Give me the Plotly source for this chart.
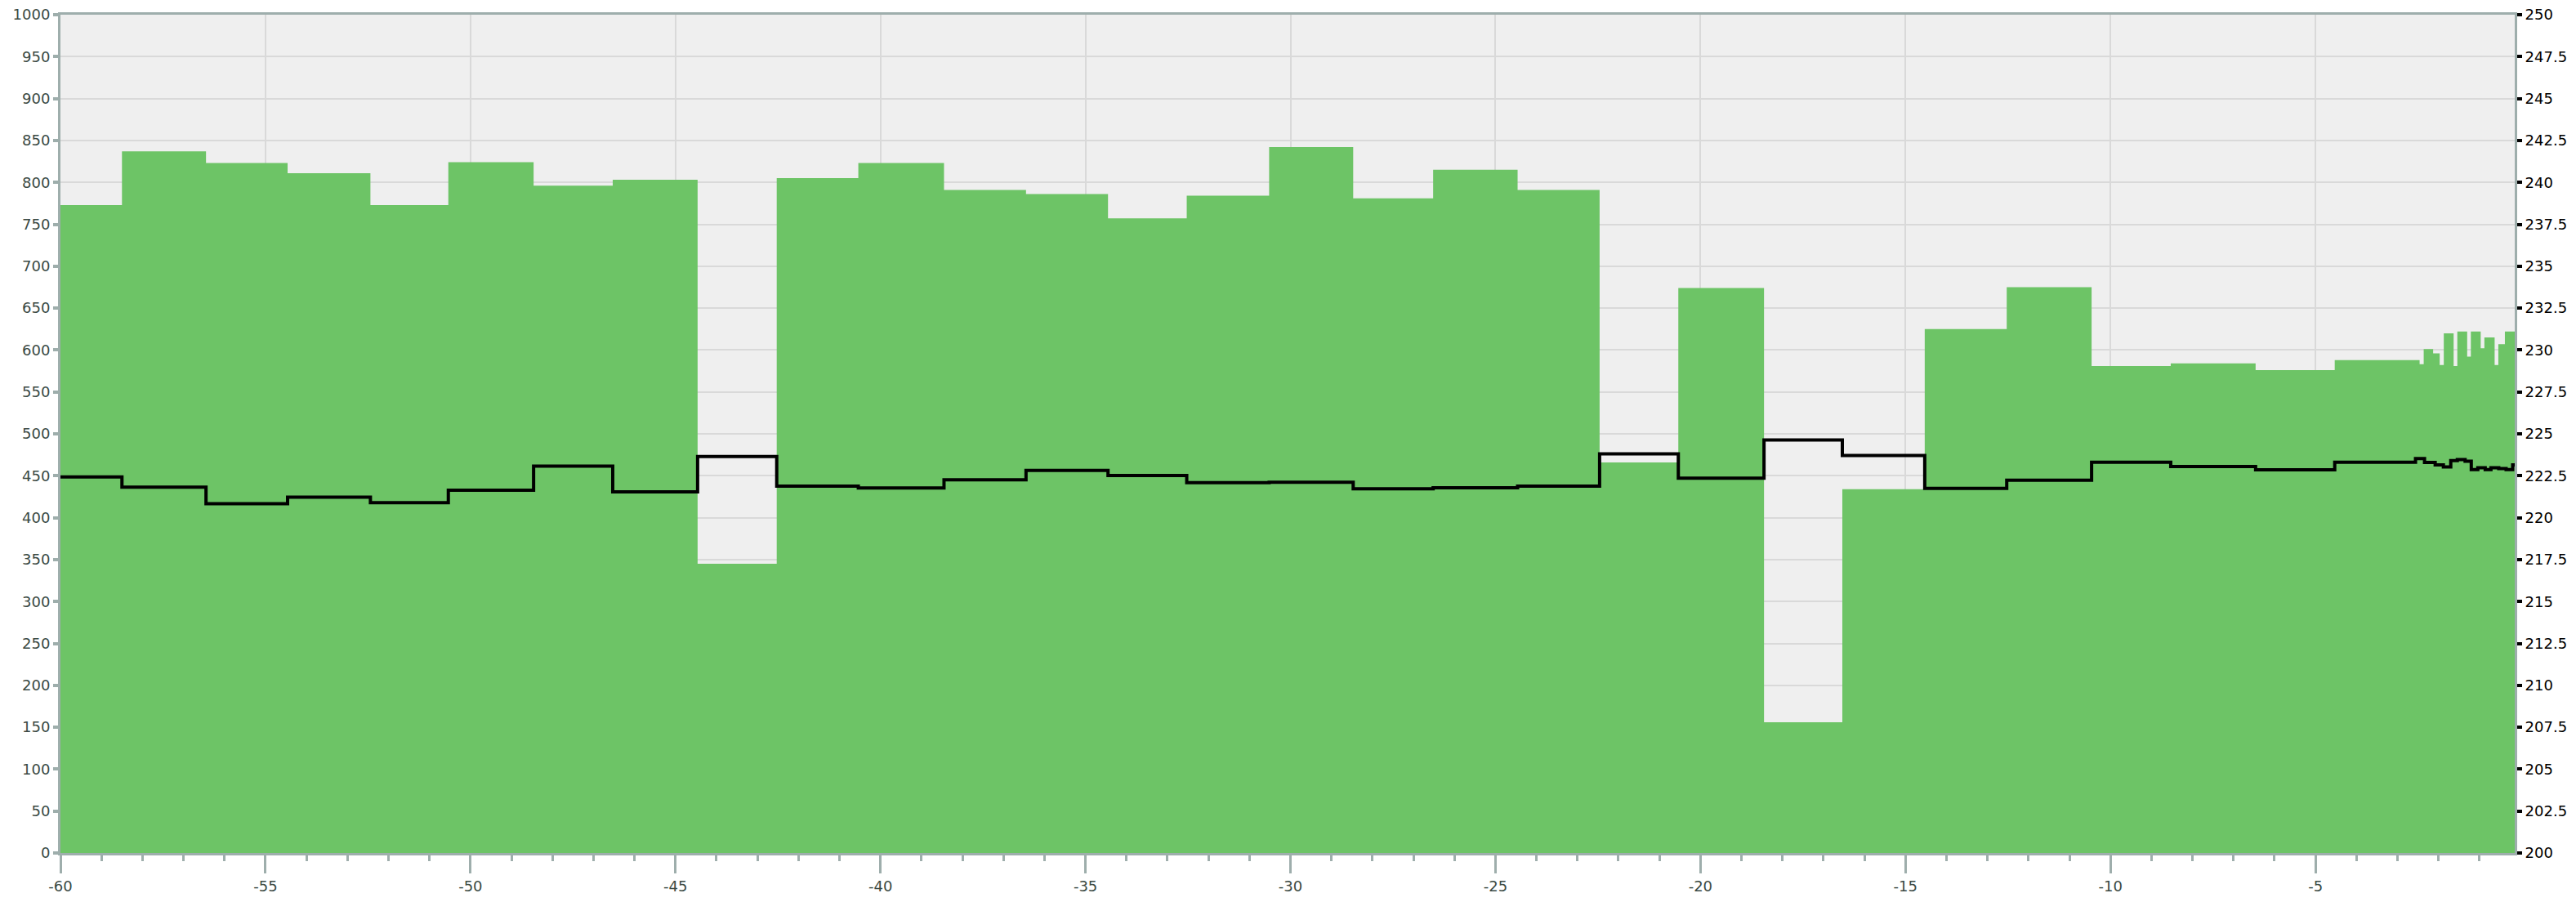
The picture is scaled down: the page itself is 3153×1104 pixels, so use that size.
import plotly.graph_objects as go

# Green stepped series (left axis): start of each step and its value
bar_x = [-60, -58.5, -56.45, -54.46, -52.44, -50.54, -48.46, -46.53, -44.46, -42.53,
         -40.54, -38.45, -36.45, -34.45, -32.53, -30.52, -28.47, -26.52, -24.46, -22.46,
         -20.54, -18.45, -16.54, -14.53, -12.53, -10.46, -8.53, -6.46, -4.53,
         -2.46, -2.36, -2.13, -1.97, -1.87, -1.63, -1.54, -1.30, -1.21, -0.97, -0.88,
         -0.63, -0.54, -0.38]
bar_y = [773, 837, 823, 811, 773, 824, 796, 803, 345, 805,
         823, 791, 786, 757, 784, 842, 781, 815, 791, 466,
         674, 156, 434, 625, 675, 581, 584, 576, 588,
         583, 601, 596, 582, 620, 581, 622, 592, 622, 602, 615,
         582, 607, 622]
x_end = -0.14

# Black stepped line (right axis)
line_x = [-60, -58.5, -56.45, -54.46, -52.44, -50.54, -48.46, -46.53, -44.46, -42.53,
          -40.54, -38.45, -36.45, -34.45, -32.53, -30.52, -28.47, -26.52, -24.46, -22.46,
          -20.54, -18.45, -16.54, -14.53, -12.53, -10.46, -8.53, -6.46, -4.53,
          -2.56, -2.34, -2.08, -1.88, -1.70, -1.54, -1.35, -1.20, -1.04, -0.86,
          -0.72, -0.53, -0.35, -0.19]
line_y = [222.43, 221.82, 220.83, 221.22, 220.89, 221.64, 223.07, 221.54, 223.65, 221.88,
          221.77, 222.26, 222.82, 222.51, 222.09, 222.11, 221.72, 221.78, 221.88, 223.80,
          222.36, 224.63, 223.71, 221.75, 222.24, 223.31, 223.05, 222.85, 223.31,
          223.52, 223.29, 223.15, 223.03, 223.40, 223.47, 223.37, 222.87, 222.98, 222.87,
          222.98, 222.93, 222.87, 223.15]

left_ticks = list(range(0, 1001, 50))
right_ticks = [200 + 2.5 * i for i in range(21)]
right_labels = [("%g" % v) for v in right_ticks]
x_ticks = list(range(-60, 0, 5))

GREEN = "#6dc466"
AXIS = "#9eaeac"
GRID = "#d9d9d9"
LABEL = "#3b4a44"
FONT = "DejaVu Sans"

fig = go.Figure()
fig.add_trace(go.Scatter(
    x=bar_x + [x_end], y=bar_y + [bar_y[-1]],
    mode="lines", line=dict(shape="hv", width=0, color=GREEN),
    fill="tozeroy", fillcolor=GREEN, hoverinfo="skip", showlegend=False))
fig.add_trace(go.Scatter(
    x=line_x + [x_end], y=line_y + [line_y[-1]], yaxis="y2",
    mode="lines", line=dict(shape="hv", width=4, color="#000000"),
    showlegend=False))

# the page body has an 8px margin, so the figure is sized/offset to compensate
fig.update_layout(
    width=3145, height=1096,
    margin=dict(l=66, r=75, t=10, b=60, autoexpand=False),
    paper_bgcolor="white", plot_bgcolor="#efefef",
    font=dict(family=FONT, size=18, color=LABEL),
    xaxis=dict(range=[-60, x_end], tickvals=x_ticks, ticktext=[str(v) for v in x_ticks],
               automargin=False, ticklabeloverflow="allow",
               ticks="outside", ticklen=22, tickwidth=3, tickcolor=AXIS,
               showline=True, linecolor=AXIS, linewidth=3, mirror=True,
               showgrid=True, gridcolor=GRID, gridwidth=2, zeroline=False,
               minor=dict(dtick=1, tick0=0, ticks="outside", ticklen=7, tickwidth=3,
                          tickcolor=AXIS, showgrid=False),
               tickfont=dict(family=FONT, size=18, color=LABEL)),
    yaxis=dict(range=[0, 1000], tickvals=left_ticks, ticktext=[str(v) for v in left_ticks],
               automargin=False, ticklabeloverflow="allow",
               ticks="outside", ticklen=6, tickwidth=4, tickcolor=AXIS,
               showline=True, linecolor=AXIS, linewidth=3,
               showgrid=True, gridcolor=GRID, gridwidth=2, zeroline=False,
               tickfont=dict(family=FONT, size=18, color=LABEL)),
    yaxis2=dict(range=[200, 250], overlaying="y", side="right",
                automargin=False, ticklabeloverflow="allow",
                tickvals=right_ticks, ticktext=right_labels,
                ticks="outside", ticklen=6, tickwidth=4, tickcolor="#000000",
                showline=True, linecolor=AXIS, linewidth=3,
                showgrid=False, zeroline=False,
                tickfont=dict(family=FONT, size=18, color="#000000")),
)

fig.write_html("out.html")
